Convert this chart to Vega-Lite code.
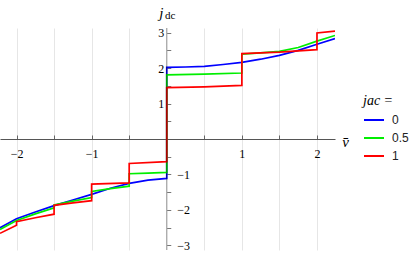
{
  "$schema": "https://vega.github.io/schema/vega-lite/v6.json",
  "width": 335,
  "height": 222,
  "autosize": "none",
  "padding": {"left": 0, "top": 28, "right": 80, "bottom": 5},
  "background": "white",
  "config": {"view": {"stroke": null}},
  "layer": [
    {
      "data": {"values": [
        {"jac":"0","o":1,"v":-2.22,"j":-2.50},{"jac":"0","o":2,"v":-2.0,"j":-2.25},{"jac":"0","o":3,"v":-1.75,"j":-2.06},{"jac":"0","o":4,"v":-1.5,"j":-1.88},{"jac":"0","o":5,"v":-1.25,"j":-1.72},{"jac":"0","o":6,"v":-1.0,"j":-1.56},{"jac":"0","o":7,"v":-0.75,"j":-1.39},{"jac":"0","o":8,"v":-0.5,"j":-1.25},{"jac":"0","o":9,"v":-0.25,"j":-1.16},{"jac":"0","o":10,"v":0,"j":-1.11},{"jac":"0","o":11,"v":0,"j":2.02},{"jac":"0","o":12,"v":0.25,"j":2.03},{"jac":"0","o":13,"v":0.5,"j":2.05},{"jac":"0","o":14,"v":0.75,"j":2.10},{"jac":"0","o":15,"v":1.0,"j":2.16},{"jac":"0","o":16,"v":1.25,"j":2.25},{"jac":"0","o":17,"v":1.5,"j":2.36},{"jac":"0","o":18,"v":1.75,"j":2.50},{"jac":"0","o":19,"v":2.0,"j":2.67},{"jac":"0","o":20,"v":2.24,"j":2.83},
        {"jac":"0.5","o":1,"v":-2.22,"j":-2.55},{"jac":"0.5","o":2,"v":-2.0,"j":-2.30},{"jac":"0.5","o":3,"v":-1.75,"j":-2.11},{"jac":"0.5","o":4,"v":-1.5,"j":-1.94},{"jac":"0.5","o":5,"v":-1.5,"j":-1.86},{"jac":"0.5","o":6,"v":-1.25,"j":-1.75},{"jac":"0.5","o":7,"v":-1.0,"j":-1.65},{"jac":"0.5","o":8,"v":-1.0,"j":-1.48},{"jac":"0.5","o":9,"v":-0.75,"j":-1.40},{"jac":"0.5","o":10,"v":-0.5,"j":-1.33},{"jac":"0.5","o":11,"v":-0.5,"j":-0.98},{"jac":"0.5","o":12,"v":-0.25,"j":-0.96},{"jac":"0.5","o":13,"v":0,"j":-0.94},{"jac":"0.5","o":14,"v":0,"j":1.81},{"jac":"0.5","o":15,"v":0.5,"j":1.83},{"jac":"0.5","o":16,"v":1.0,"j":1.86},{"jac":"0.5","o":17,"v":1.0,"j":2.39},{"jac":"0.5","o":18,"v":1.25,"j":2.43},{"jac":"0.5","o":19,"v":1.5,"j":2.47},{"jac":"0.5","o":20,"v":1.75,"j":2.58},{"jac":"0.5","o":21,"v":2.0,"j":2.76},{"jac":"0.5","o":22,"v":2.24,"j":2.92},
        {"jac":"1","o":1,"v":-2.22,"j":-2.66},{"jac":"1","o":2,"v":-2.0,"j":-2.43},{"jac":"1","o":3,"v":-2.0,"j":-2.33},{"jac":"1","o":4,"v":-1.75,"j":-2.22},{"jac":"1","o":5,"v":-1.5,"j":-2.12},{"jac":"1","o":6,"v":-1.5,"j":-1.87},{"jac":"1","o":7,"v":-1.25,"j":-1.80},{"jac":"1","o":8,"v":-1.0,"j":-1.74},{"jac":"1","o":9,"v":-1.0,"j":-1.27},{"jac":"1","o":10,"v":-0.5,"j":-1.24},{"jac":"1","o":11,"v":-0.5,"j":-0.69},{"jac":"1","o":12,"v":0,"j":-0.64},{"jac":"1","o":13,"v":0,"j":1.45},{"jac":"1","o":14,"v":0.5,"j":1.47},{"jac":"1","o":15,"v":1.0,"j":1.51},{"jac":"1","o":16,"v":1.0,"j":2.41},{"jac":"1","o":17,"v":1.5,"j":2.45},{"jac":"1","o":18,"v":2.0,"j":2.52},{"jac":"1","o":19,"v":2.0,"j":2.99},{"jac":"1","o":20,"v":2.24,"j":3.04}
      ]},
      "mark": {"type": "line", "strokeWidth": 1.7, "clip": true},
      "encoding": {
        "x": {
          "field": "v", "type": "quantitative",
          "scale": {"domain": [-2.22, 2.24], "nice": false, "zero": false},
          "axis": {
            "orient": "bottom", "offset": -111,
            "values": [-2, -1.5, -1, -0.5, 0.5, 1, 1.5, 2],
            "labelExpr": "datum.value % 1 === 0 ? format(datum.value, 'd') : ''",
            "grid": true, "gridColor": "#e6e6e6", "gridWidth": 1,
            "tickSize": -4, "tickColor": "#666", "domainColor": "#555",
            "labelPadding": 13, "labelFont": "Liberation Serif", "labelFontSize": 12, "labelColor": "#000",
            "title": "v̄", "titleFont": "Liberation Serif", "titleFontStyle": "italic", "titleFontWeight": "normal",
            "titleFontSize": 15, "titleX": 345, "titleY": 2, "titleAlign": "center", "titleBaseline": "middle", "titleColor": "#000"
          }
        },
        "y": {
          "field": "j", "type": "quantitative",
          "scale": {"domain": [-3.13, 3.13], "nice": false, "zero": false},
          "axis": {
            "orient": "left", "offset": -166.75,
            "values": [1, 2, 3],
            "labelExpr": "format(datum.value, 'd')",
            "ticks": false, "domain": false, "grid": false,
            "labelPadding": 3, "labelFont": "Liberation Serif", "labelFontSize": 12, "labelColor": "#000",
            "title": "j", "titleFont": "Liberation Serif", "titleFontStyle": "italic", "titleFontWeight": "normal",
            "titleFontSize": 15, "titleAngle": 0, "titleX": -6, "titleY": -11, "titleAlign": "center", "titleBaseline": "alphabetic", "titleColor": "#000"
          }
        },
        "color": {
          "field": "jac", "type": "nominal",
          "scale": {"domain": ["0", "0.5", "1"], "range": ["#0000ff", "#00ee00", "#ff0000"]},
          "legend": {
            "orient": "none", "legendX": 363, "legendY": 66,
            "title": "jac =", "titleFont": "Liberation Serif", "titleFontStyle": "italic", "titleFontWeight": "normal", "titleFontSize": 14, "titleColor": "#000", "titlePadding": 1,
            "symbolType": "stroke", "symbolSize": 400, "symbolStrokeWidth": 2,
            "labelFont": "Liberation Sans", "labelFontSize": 12, "labelColor": "#222", "labelOffset": 7, "rowPadding": 1
          }
        },
        "order": {"field": "o", "type": "quantitative"}
      }
    },
    {
      "data": {"values": [{"v": 0, "y1": -3.13, "y2": 3.13}]},
      "mark": {"type": "rule", "color": "#000", "opacity": 0.38, "strokeWidth": 1.2},
      "encoding": {
        "x": {
          "field": "v", "type": "quantitative",
          "scale": {"domain": [-2.22, 2.24], "nice": false, "zero": false},
          "axis": {
            "orient": "bottom", "offset": -111,
            "values": [-2, -1.5, -1, -0.5, 0.5, 1, 1.5, 2],
            "labelExpr": "datum.value % 1 === 0 ? format(datum.value, 'd') : ''",
            "grid": true, "gridColor": "#e6e6e6", "gridWidth": 1,
            "tickSize": -4, "tickColor": "#666", "domainColor": "#555",
            "labelPadding": 13, "labelFont": "Liberation Serif", "labelFontSize": 12, "labelColor": "#000",
            "title": "v̄", "titleFont": "Liberation Serif", "titleFontStyle": "italic", "titleFontWeight": "normal",
            "titleFontSize": 15, "titleX": 345, "titleY": 2, "titleAlign": "center", "titleBaseline": "middle", "titleColor": "#000"
          }
        },
        "y": {
          "field": "y1", "type": "quantitative",
          "scale": {"domain": [-3.13, 3.13], "nice": false, "zero": false},
          "axis": {
            "orient": "right", "offset": -168.25,
            "values": [-3, -2.5, -2, -1.5, -1, -0.5, 0.5, 1, 1.5, 2, 2.5, 3],
            "labelExpr": "datum.value % 1 === 0 && datum.value < 0 ? format(datum.value, 'd') : ''",
            "tickSize": 4, "tickColor": "#777", "domain": false, "grid": false,
            "labelPadding": 6, "labelFont": "Liberation Serif", "labelFontSize": 12, "labelColor": "#000",
            "title": "dc", "titleFont": "Liberation Serif", "titleFontWeight": "normal", "titleFontSize": 11,
            "titleAngle": 0, "titleX": 3, "titleY": -10, "titleAlign": "center", "titleBaseline": "alphabetic", "titleColor": "#000"
          }
        },
        "y2": {"field": "y2"}
      }
    }
  ],
  "resolve": {"axis": {"y": "independent", "x": "shared"}}
}
